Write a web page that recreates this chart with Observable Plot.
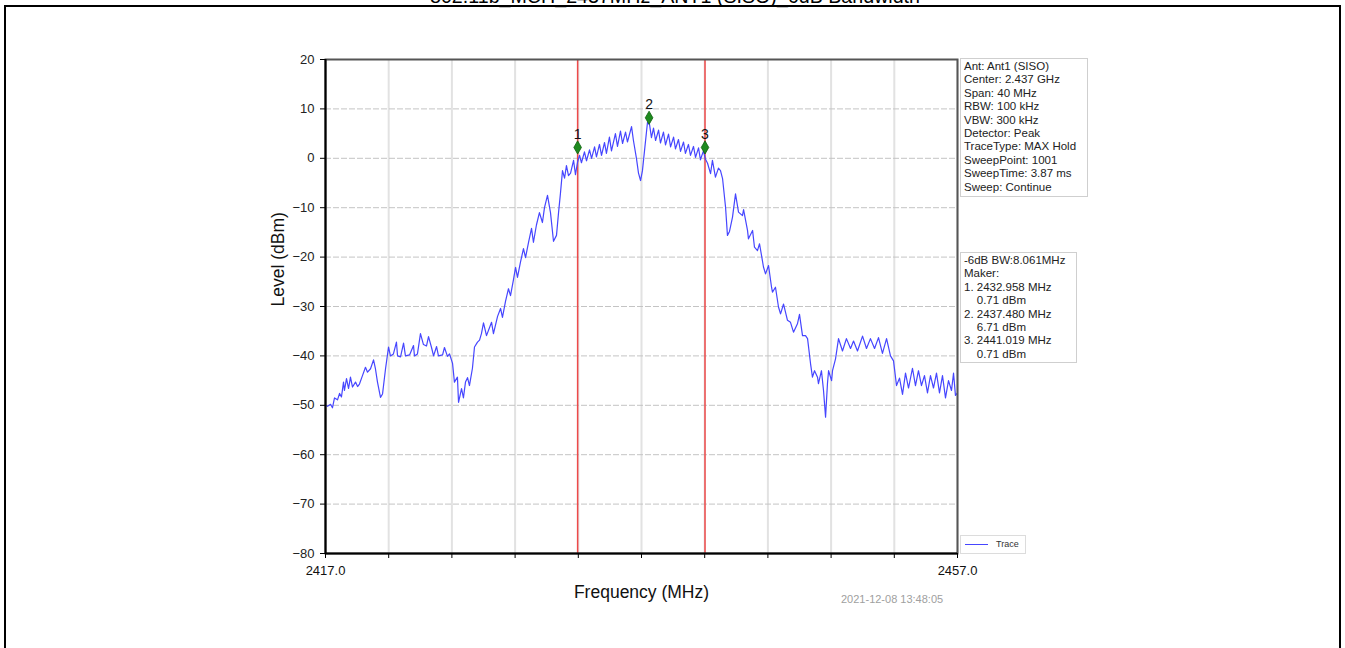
<!DOCTYPE html>
<html>
<head>
<meta charset="utf-8">
<script src="https://cdn.jsdelivr.net/npm/d3@7"></script>
<script src="https://cdn.jsdelivr.net/npm/@observablehq/plot@0.6"></script>
<style>
  html, body { margin: 0; padding: 0; background: #fff; }
  #wrap { position: relative; width: 1345px; height: 648px; overflow: hidden; font-family: "Liberation Sans", Arial, sans-serif; }
  #chart { position: absolute; left: 0; top: 0; }
  .box { position: absolute; background: #fff; border: 1px solid #cfcfcf; font-size: 11.5px; line-height: 13.4px; color: #222; white-space: pre; box-sizing: border-box; }
</style>
</head>
<body>
<div id="wrap">
  <div id="chart"></div>
</div>
<script>
// ---- data ----
const traceFreq = [
  2417.00,2417.13,2417.32,2417.44,2417.57,2417.76,2417.89,2418.01,2418.14,2418.20,
  2418.33,2418.46,2418.58,2418.71,2418.90,2419.03,2419.15,2419.34,2419.53,2419.66,
  2419.85,2420.04,2420.16,2420.29,2420.48,2420.61,2420.80,2420.99,2421.11,2421.30,
  2421.49,2421.56,2421.75,2421.94,2422.06,2422.32,2422.57,2422.63,2422.82,2423.01,
  2423.20,2423.39,2423.52,2423.71,2423.84,2424.03,2424.15,2424.41,2424.53,2424.72,
  2424.85,2425.04,2425.16,2425.35,2425.42,2425.61,2425.73,2425.86,2425.99,2426.11,
  2426.30,2426.43,2426.62,2426.75,2426.87,2427.00,2427.19,2427.51,2427.63,2427.89,
  2428.08,2428.20,2428.39,2428.58,2428.71,2428.90,2429.03,2429.15,2429.34,2429.53,
  2429.66,2429.85,2430.04,2430.16,2430.35,2430.54,2430.73,2430.86,2431.05,2431.24,
  2431.43,2431.62,2431.75,2431.87,2432.00,2432.13,2432.25,2432.38,2432.51,2432.70,
  2432.82,2432.95,2433.08,2433.20,2433.39,2433.52,2433.71,2433.84,2434.03,2434.15,
  2434.34,2434.47,2434.66,2434.78,2434.97,2435.10,2435.35,2435.48,2435.67,2435.80,
  2435.99,2436.11,2436.37,2436.49,2436.68,2436.81,2436.94,2437.06,2437.19,2437.38,
  2437.51,2437.63,2437.76,2437.89,2438.08,2438.20,2438.39,2438.52,2438.71,2438.84,
  2439.03,2439.15,2439.34,2439.47,2439.66,2439.78,2439.97,2440.10,2440.29,2440.42,
  2440.61,2440.73,2440.92,2441.05,2441.18,2441.37,2441.49,2441.68,2441.87,2442.00,
  2442.13,2442.32,2442.44,2442.57,2442.76,2442.95,2443.14,2443.39,2443.46,2443.71,
  2443.77,2444.03,2444.15,2444.34,2444.47,2444.72,2444.85,2445.04,2445.23,2445.29,
  2445.48,2445.67,2445.80,2445.99,2446.24,2446.43,2446.62,2446.87,2447.00,2447.19,
  2447.38,2447.51,2447.70,2447.82,2447.95,2448.14,2448.20,2448.39,2448.52,2448.65,
  2448.77,2448.84,2449.03,2449.09,2449.28,2449.47,2449.72,2449.97,2450.23,2450.42,
  2450.67,2450.99,2451.24,2451.49,2451.75,2452.00,2452.25,2452.51,2452.76,2452.95,
  2453.14,2453.33,2453.52,2453.71,2453.90,2454.15,2454.34,2454.53,2454.72,2454.91,
  2455.10,2455.29,2455.48,2455.67,2455.86,2456.05,2456.24,2456.43,2456.62,2456.75,
  2456.87,2457.00
];
const traceLevel = [
  -50.0,-50.2,-49.8,-50.5,-48.5,-48.9,-47.6,-48.3,-45.3,-47.0,
  -44.6,-46.6,-44.3,-46.3,-45.3,-46.2,-45.7,-44.0,-42.3,-43.3,
  -42.6,-40.8,-42.6,-45.3,-48.4,-47.7,-42.6,-38.2,-40.0,-39.6,
  -37.2,-40.0,-40.2,-37.4,-40.0,-39.8,-37.9,-40.0,-39.6,-35.5,
  -37.7,-38.0,-36.1,-38.3,-40.0,-38.1,-40.0,-39.8,-38.3,-40.1,
  -39.6,-41.5,-45.3,-44.3,-49.4,-46.6,-48.5,-45.3,-44.4,-46.0,
  -42.5,-38.2,-37.2,-36.8,-35.5,-33.3,-35.9,-33.2,-35.5,-32.0,
  -30.4,-32.2,-29.0,-26.4,-27.8,-24.5,-22.1,-24.1,-21.0,-18.3,
  -20.1,-17.0,-14.2,-17.0,-13.5,-11.0,-13.0,-10.0,-7.5,-11.0,
  -16.8,-15.6,-11.0,-7.1,-2.5,-4.0,-1.5,-3.5,-3.0,-0.4,
  -3.3,-0.8,0.6,-0.9,1.3,-0.5,1.7,0.0,2.3,0.3,
  2.8,0.6,3.2,1.0,4.3,1.5,5.0,2.4,5.5,3.0,
  5.3,3.3,6.4,3.6,0.0,-3.0,-4.5,-2.5,1.5,7.3,
  6.8,4.2,6.1,3.6,5.7,3.1,5.3,2.7,4.9,2.3,
  4.3,1.9,3.8,1.4,3.3,1.0,2.8,0.6,2.4,0.2,
  2.1,-0.3,1.5,-0.2,-1.0,-3.1,-0.4,-3.8,-2.0,-2.5,
  -4.1,-9.9,-15.6,-14.8,-11.9,-7.2,-10.9,-11.6,-10.4,-14.6,
  -16.3,-14.6,-18.0,-18.7,-17.3,-22.0,-23.4,-21.7,-26.1,-27.1,
  -26.1,-30.1,-31.5,-29.5,-32.8,-33.2,-35.2,-33.5,-31.6,-35.9,
  -35.9,-36.5,-41.6,-44.3,-43.0,-44.3,-45.6,-43.0,-47.0,-52.4,
  -45.6,-43.0,-45.0,-43.0,-40.6,-36.5,-39.0,-36.5,-38.5,-37.0,
  -39.0,-36.0,-38.5,-36.5,-38.5,-36.3,-39.5,-36.5,-40.0,-41.0,
  -46.0,-44.5,-47.8,-43.5,-46.5,-42.5,-46.0,-43.0,-46.0,-44.0,
  -47.5,-44.0,-46.5,-43.5,-47.5,-44.0,-48.5,-45.0,-47.0,-43.5,
  -48.0,-47.5
];
const markerLabel = ["1", "2", "3"];
const markerFreq = [2432.958, 2437.48, 2441.019];
const markerLevel = [2.2, 8.2, 2.2];          // as drawn on the picture
const redLineFreq = [2432.958, 2441.019];
const yTicks = [20, 10, 0, -10, -20, -30, -40, -50, -60, -70, -80];
const xGridTicks = [2417, 2421, 2425, 2429, 2433, 2437, 2441, 2445, 2449, 2453, 2457];
const xLabelTicks = [2417, 2457];

const infoLines = ["Ant: Ant1 (SISO)", "Center: 2.437 GHz", "Span: 40 MHz", "RBW: 100 kHz", "VBW: 300 kHz",
  "Detector: Peak", "TraceType: MAX Hold", "SweepPoint: 1001", "SweepTime: 3.87 ms", "Sweep: Continue"];
const bwLines = ["-6dB BW:8.061MHz", "Maker:", "1. 2432.958 MHz", "    0.71 dBm", "2. 2437.480 MHz",
  "    6.71 dBm", "3. 2441.019 MHz", "    0.71 dBm"];
const titleText = "802.11b_MCH_2437MHz_ANT1 (SISO)_6dB Bandwidth";
const stamp = "2021-12-08 13:48:05";

// ---- build tables ----
const trace = traceFreq.map((f, i) => ({freq: f, level: traceLevel[i]}));
const markers = markerFreq.map((f, i) => ({freq: f, level: markerLevel[i], label: markerLabel[i]}));

const chart = Plot.plot({
  width: 1345,
  height: 648,
  marginLeft: 325,
  marginRight: 388,
  marginTop: 59,
  marginBottom: 95,
  x: {domain: [2417, 2457]},
  y: {domain: [-80, 20]},
  style: {fontFamily: "'Liberation Sans', Arial, sans-serif", fontSize: "13px", color: "#222", background: "transparent", overflow: "visible"},
  marks: [
    Plot.gridX(xGridTicks, {stroke: "#e2e2e2", strokeWidth: 2, strokeOpacity: 1}),
    Plot.gridY(yTicks, {stroke: "#c4c4c4", strokeWidth: 1, strokeOpacity: 1, strokeDasharray: "6,2"}),
    Plot.ruleX(redLineFreq, {stroke: "#ee4a4a", strokeWidth: 1.5}),
    Plot.line(trace, {x: "freq", y: "level", stroke: "#4646ff", strokeWidth: 1.2}),
    Plot.dot(markers, {x: "freq", y: "level", symbol: "diamond", r: 4, fill: "#1e8a1e", stroke: "#0d600d", strokeWidth: 0.8}),
    Plot.text(markers, {x: "freq", y: "level", text: "label", dy: -13, fontSize: 14, fill: "#111"}),
    Plot.frame({stroke: "#555", strokeWidth: 2}),
    Plot.ruleX([2417], {stroke: "#000", strokeWidth: 2}),
    Plot.ruleY([-80], {stroke: "#000", strokeWidth: 2}),
    Plot.axisY(yTicks, {tickSize: 5, tickPadding: 6, label: null, fill: "#222", stroke: "#000"}),
    Plot.axisX(xGridTicks, {tickSize: 5, tickFormat: () => "", label: null, stroke: "#000"}),
    Plot.axisX(xLabelTicks, {tickSize: 0, tickPadding: 12, tickFormat: d3.format(".1f"), label: null, fill: "#111"}),
    Plot.text(["Level (dBm)"], {frameAnchor: "left", dx: -47, rotate: -90, fontSize: 17.5, fill: "#111"}),
    Plot.text(["Frequency (MHz)"], {frameAnchor: "bottom", dy: 44, fontSize: 17.5, fill: "#111"})
  ]
});
document.getElementById("chart").appendChild(chart);

// ---- surrounding page elements (table frame, title, boxes) ----
const wrap = document.getElementById("wrap");
function add(tag, css, text) {
  const el = document.createElement(tag);
  el.style.cssText = css;
  if (text != null) el.textContent = text;
  wrap.appendChild(el);
  return el;
}
// table borders
add("div", "position:absolute;left:4px;top:5px;width:1337px;height:2px;background:#000;");
add("div", "position:absolute;left:4px;top:5px;width:2px;height:643px;background:#000;");
add("div", "position:absolute;left:1339px;top:5px;width:2px;height:643px;background:#000;");

// title (cut off by the top of the page, as in the reference)
const ns = "http://www.w3.org/2000/svg";
const tsvg = document.createElementNS(ns, "svg");
tsvg.setAttribute("width", 1345); tsvg.setAttribute("height", 10);
tsvg.style.cssText = "position:absolute;left:0;top:0;";
const tt = document.createElementNS(ns, "text");
tt.setAttribute("x", 430); tt.setAttribute("y", 2.5);
tt.setAttribute("textLength", 490); tt.setAttribute("lengthAdjust", "spacingAndGlyphs");
tt.setAttribute("font-size", 20); tt.setAttribute("font-family", "'Liberation Sans', Arial, sans-serif");
tt.textContent = titleText;
tsvg.appendChild(tt);
wrap.appendChild(tsvg);

// info boxes
add("div", "left:960px;top:58px;width:128px;height:139px;padding:1px 0 0 3px;", infoLines.join("\n")).className = "box";
add("div", "left:960px;top:252px;width:117px;height:111px;padding:1px 0 0 3px;", bwLines.join("\n")).className = "box";

// legend
const leg = add("div", "left:960px;top:535px;width:66px;height:19px;border-color:#dcdcdc;");
leg.className = "box";
add("div", "position:absolute;left:965px;top:544px;width:23px;height:1.2px;background:#4646ff;");
add("div", "position:absolute;left:996px;top:538px;font-size:9px;line-height:12px;color:#333;", "Trace");

// timestamp
add("div", "position:absolute;left:841px;top:592px;font-size:11px;line-height:14px;color:#a0a0a0;", stamp);
</script>
</body>
</html>
